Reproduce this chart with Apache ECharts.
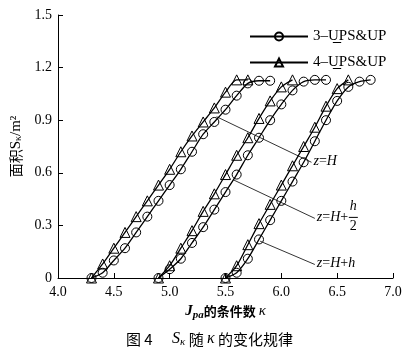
<!DOCTYPE html>
<html><head><meta charset="utf-8">
<script src="https://cdn.jsdelivr.net/npm/echarts@6/dist/echarts.min.js"></script>
<style>html,body{margin:0;padding:0;background:#fff}#c{width:419px;height:359px}</style>
</head><body><div id="c"></div>
<script>
// ---- data ----
const xTicks = [4.0, 4.5, 5.0, 5.5, 6.0, 6.5, 7.0];
const yTicks = [0, 0.3, 0.6, 0.9, 1.2, 1.5];
const seriesNames = ['3\u2013UPS&UP', '4\u2013UPS&UP'];

// z = H
const cH_x = [4.3,4.4,4.5,4.6,4.7,4.8,4.9,5.0,5.1,5.2,5.3,5.4,5.5,5.6,5.7,5.8,5.9];
const cH_y = [0,0.03,0.10,0.17,0.26,0.35,0.44,0.53,0.62,0.72,0.82,0.89,0.96,1.04,1.11,1.125,1.125];
const tH_x = [4.3,4.4,4.5,4.6,4.7,4.8,4.9,5.0,5.1,5.2,5.3,5.4,5.5,5.6,5.7];
const tH_y = [0,0.08,0.17,0.26,0.35,0.44,0.53,0.62,0.72,0.81,0.89,0.97,1.06,1.13,1.13];
// z = H + h/2
const cH2_x = [4.9,5.0,5.1,5.2,5.3,5.4,5.5,5.6,5.7,5.8,5.9,6.0,6.1,6.2,6.3,6.4];
const cH2_y = [0,0.05,0.11,0.20,0.29,0.39,0.49,0.59,0.70,0.80,0.90,0.99,1.07,1.12,1.13,1.13];
const tH2_x = [4.9,5.0,5.1,5.2,5.3,5.4,5.5,5.6,5.7,5.8,5.9,6.0,6.1];
const tH2_y = [0,0.07,0.17,0.27,0.38,0.48,0.59,0.70,0.80,0.91,1.01,1.09,1.13];
// z = H + h
const cH3_x = [5.5,5.6,5.7,5.8,5.9,6.0,6.1,6.2,6.3,6.4,6.5,6.6,6.7,6.8];
const cH3_y = [0,0.03,0.11,0.22,0.33,0.44,0.55,0.66,0.78,0.90,1.01,1.09,1.12,1.13];
const tH3_x = [5.5,5.6,5.7,5.8,5.9,6.0,6.1,6.2,6.3,6.4,6.5,6.6];
const tH3_y = [0,0.07,0.19,0.31,0.42,0.53,0.64,0.75,0.86,0.98,1.08,1.13];

// annotation leaders (data coords)
const leaderFrom = [[5.42,0.92],[5.57,0.56],[5.81,0.21]];
const leaderTo   = [[6.27,0.66],[6.30,0.34],[6.30,0.077]];

// ---- chart ----
const SERIF = '"Liberation Serif","Times New Roman","Noto Sans CJK SC",serif';
const chart = echarts.init(document.getElementById('c'), null, {renderer:'canvas'});

function pts(xs, ys){ return xs.map((x,i)=>[x, ys[i]]); }
function curve(name, xs, ys, sym){
  return {
    type:'line', name:name, data:pts(xs,ys), smooth:0.25,
    symbol:sym, symbolSize: sym==='circle'?9:10, showAllSymbol:true,
    lineStyle:{color:'#000', width:1.3},
    itemStyle:{color:'rgba(255,255,255,0)', borderColor:'#000', borderWidth:1},
    emphasis:{disabled:true}, silent:true, animation:false
  };
}
const series = [
  curve(seriesNames[0], cH_x, cH_y, 'circle'),
  curve(seriesNames[1], tH_x, tH_y, 'triangle'),
  curve(seriesNames[0], cH2_x, cH2_y, 'circle'),
  curve(seriesNames[1], tH2_x, tH2_y, 'triangle'),
  curve(seriesNames[0], cH3_x, cH3_y, 'circle'),
  curve(seriesNames[1], tH3_x, tH3_y, 'triangle')
];
leaderFrom.forEach((f,i)=>{
  series.push({type:'line', name:'leader'+i, data:[f, leaderTo[i]], symbol:'none',
    lineStyle:{color:'#000', width:0.8}, silent:true, animation:false});
});

const LEG_LEFT = 244, LEG_TOP = 24, LEG_W = 58, LEG_GAP = 11, LEG_FS = 15;
chart.setOption({
  backgroundColor:'#fff',
  animation:false,
  grid:{left:58, right:26, top:15, bottom:81, containLabel:false},
  legend:{
    data:seriesNames, orient:'vertical', left:LEG_LEFT, top:LEG_TOP,
    itemWidth:LEG_W, itemHeight:10, itemGap:LEG_GAP,
    textStyle:{fontFamily:SERIF, fontSize:LEG_FS, color:'#000'},
    selectedMode:false
  },
  xAxis:{
    type:'value', min:xTicks[0], max:xTicks[xTicks.length-1], interval:0.5,
    axisLine:{show:true, lineStyle:{color:'#000', width:1}},
    axisTick:{show:true, inside:true, length:5, lineStyle:{color:'#000'}},
    splitLine:{show:false},
    axisLabel:{color:'#000', fontFamily:SERIF, fontSize:14, margin:7,
      formatter:v=>v.toFixed(1)},
    name:'{j|J}{s|pa}{c|的条件数 }{k|κ}', nameLocation:'middle', nameGap:24,
    nameTextStyle:{color:'#000', rich:{
      j:{fontFamily:SERIF, fontSize:15, fontWeight:'bold', fontStyle:'italic'},
      s:{fontFamily:SERIF, fontSize:11, fontWeight:'bold', fontStyle:'italic', padding:[8,0,0,0]},
      c:{fontFamily:'"Noto Sans CJK SC",sans-serif', fontSize:13, fontWeight:'bold'},
      k:{fontFamily:SERIF, fontSize:15, fontStyle:'italic'}
    }}
  },
  yAxis:{
    type:'value', min:yTicks[0], max:yTicks[yTicks.length-1], interval:0.3,
    axisLine:{show:true, lineStyle:{color:'#000', width:1}},
    axisTick:{show:true, inside:true, length:5, lineStyle:{color:'#000'}},
    splitLine:{show:false},
    axisLabel:{color:'#000', fontFamily:SERIF, fontSize:14, margin:6,
      formatter:v=> v===0 ? '0' : v.toFixed(1)},
    name:'{c|面积}{s|S}{k|κ}{s|/m²}', nameLocation:'middle', nameGap:34, nameRotate:90,
    nameTextStyle:{color:'#000', rich:{
      c:{fontFamily:'"Noto Sans CJK SC",sans-serif', fontSize:14},
      s:{fontFamily:SERIF, fontSize:15},
      k:{fontFamily:SERIF, fontSize:10, padding:[6,0,0,0]}
    }}
  },
  series:series
});

// annotation labels + caption
const g = [];
const labelRich = {
  i:{fontFamily:SERIF, fontSize:14, fontStyle:'italic', fill:'#000'},
  n:{fontFamily:SERIF, fontSize:14, fill:'#000'}
};
const ends = leaderTo.map(p=>chart.convertToPixel({gridIndex:0}, p));
g.push({type:'text', left:ends[0][0]+2, top:ends[0][1]-8,
  style:{text:'{i|z}{n|=}{i|H}', rich:labelRich}});
g.push({type:'text', left:ends[1][0]+2, top:ends[1][1]-8,
  style:{text:'{i|z}{n|=}{i|H}{n|+}', rich:labelRich}});
g.push({type:'text', left:ends[1][0]+35, top:ends[1][1]-19,
  style:{text:'h', font:'italic 14px '+SERIF, fill:'#000'}});
g.push({type:'line', shape:{x1:ends[1][0]+34, y1:ends[1][1]-1, x2:ends[1][0]+43, y2:ends[1][1]-1},
  style:{stroke:'#000', lineWidth:1}});
g.push({type:'text', left:ends[1][0]+35, top:ends[1][1]+1,
  style:{text:'2', font:'14px '+SERIF, fill:'#000'}});
g.push({type:'text', left:ends[2][0]+2, top:ends[2][1]-8,
  style:{text:'{i|z}{n|=}{i|H}{n|+}{i|h}', rich:labelRich}});

// underline under the "P" of each legend entry
const mc = document.createElement('canvas').getContext('2d');
mc.font = LEG_FS + 'px "Liberation Serif"';
const preW = mc.measureText('3\u2013U').width;
const pW = mc.measureText('P').width;
const textX = LEG_LEFT + LEG_W + 5;
[0,1].forEach(i=>{
  const cy = LEG_TOP + 18.5 + i*(15 + LEG_GAP);
  g.push({type:'line', shape:{x1:textX+preW, y1:cy, x2:textX+preW+pW, y2:cy},
    style:{stroke:'#000', lineWidth:1}});
});

// caption
g.push({type:'text', left:'center', top:331,
  style:{text:'{c|图 4}{sp|     }{s|S}{k|κ}{c| 随 }{m|κ}{c| 的变化规律}', rich:{
    c:{fontFamily:'"Noto Sans CJK SC",sans-serif', fontSize:15, fill:'#000'},
    sp:{fontSize:14},
    s:{fontFamily:SERIF, fontSize:16, fontStyle:'italic', fill:'#000'},
    k:{fontFamily:SERIF, fontSize:11, fontStyle:'italic', fill:'#000', padding:[7,0,0,0]},
    m:{fontFamily:SERIF, fontSize:16, fontStyle:'italic', fill:'#000'}
  }}});
chart.setOption({graphic:g});
</script></body></html>
